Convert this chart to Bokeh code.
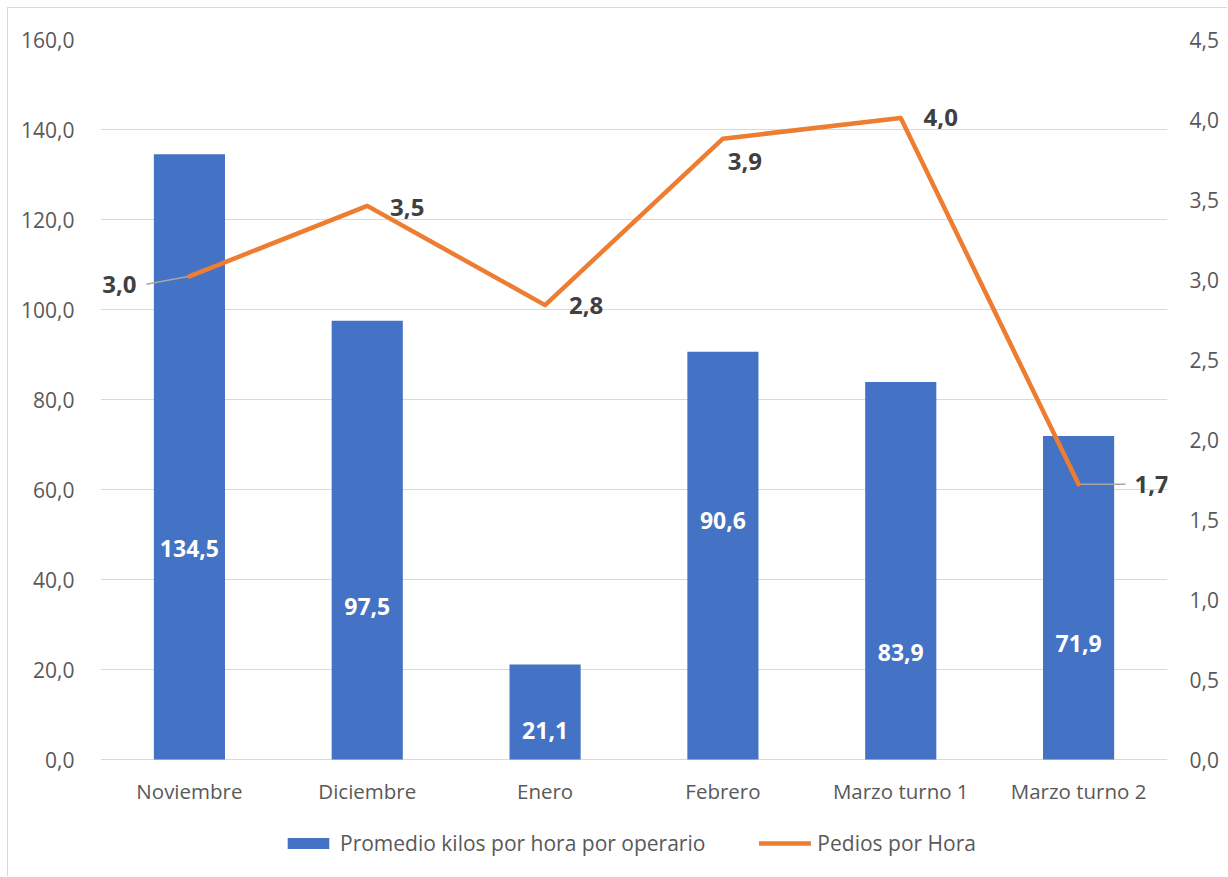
from bokeh.plotting import figure
from bokeh.models import (Range1d, LinearAxis, FixedTicker, Legend, LegendItem,
                          CustomJSTickFormatter, ColumnDataSource)
from bokeh.core.properties import value
from bokeh.embed import file_html
from bokeh.resources import INLINE

# ---- data ----
categories = ["Noviembre", "Diciembre", "Enero", "Febrero", "Marzo turno 1", "Marzo turno 2"]
kilos = [134.5, 97.5, 21.1, 90.6, 83.9, 71.9]
pedidos = [3.02, 3.46, 2.84, 3.88, 4.01, 1.72]
left_ticks = [0, 20, 40, 60, 80, 100, 120, 140, 160]
right_ticks = [0, 0.5, 1.0, 1.5, 2.0, 2.5, 3.0, 3.5, 4.0, 4.5]
LEFT_MAX, RIGHT_MAX = 160, 4.5

# ---- layout / style (not data) ----
bar_label_y = [46.9, 34.0, 6.4, 53.1, 23.8, 25.8]          # where each bar label sits
line_label_dx = [-70, 40, 41, 22, 40, 73]                   # px offsets of line labels
line_label_dy = [8, 2, 0, 23, 0, 0]
FONT = "Open Sans"
BLUE = "#4472C4"
ORANGE = "#ED7D31"
GRID = "#D9D9D9"
TXT = "#595959"
FW = 1067          # plot width in px
VH = 720           # px between value 0 and the top of the axes
BELOW = 111        # px kept under value 0 for category labels and legend

xs = [i + 0.5 for i in range(len(categories))]
l_lo = -BELOW * LEFT_MAX / VH
r_lo = -BELOW * RIGHT_MAX / VH

p = figure(frame_width=FW, frame_height=VH + BELOW,
           x_range=Range1d(0, len(categories)), y_range=Range1d(l_lo, LEFT_MAX),
           output_backend="svg", toolbar_location=None,
           min_border_left=92, min_border_right=60, min_border_top=31, min_border_bottom=6,
           x_axis_location=None, y_axis_location="left")
p.styles = {"border-left": "1px solid #D9D9D9", "border-top": "1px solid #D9D9D9",
            "margin-left": "7px", "margin-top": "7px"}
p.outline_line_color = None
p.extra_y_ranges = {"right": Range1d(r_lo, RIGHT_MAX)}

# axes
fmt = CustomJSTickFormatter(code="return tick.toFixed(1).replace('.', ',');")
ya = p.yaxis[0]
ya.ticker = FixedTicker(ticks=left_ticks)
ya.formatter = fmt
ry = LinearAxis(y_range_name="right", ticker=FixedTicker(ticks=right_ticks), formatter=fmt)
p.add_layout(ry, "right")
for ax in (ya, ry):
    ax.axis_line_color = None
    ax.major_tick_line_color = None
    ax.minor_tick_line_color = None
    ax.major_label_text_font = FONT
    ax.major_label_text_font_size = "21px"
    ax.major_label_text_color = TXT
ya.major_label_standoff = 20
ry.major_label_standoff = 16

p.xgrid.grid_line_color = None
p.ygrid.ticker = FixedTicker(ticks=left_ticks)
p.ygrid.grid_line_color = GRID
p.ygrid.grid_line_width = 1

src = ColumnDataSource(dict(
    x=xs, cat=categories, kilos=kilos, pedidos=pedidos,
    klab=[f"{v:.1f}".replace(".", ",") for v in kilos],
    plab=[f"{v:.1f}".replace(".", ",") for v in pedidos],
    ky=bar_label_y, dx=line_label_dx, dy=line_label_dy,
))

bars = p.vbar(x="x", top="kilos", width=0.4, source=src, fill_color=BLUE, line_color=None)

# category labels under the value axis baseline
p.text(x="x", y=0, text="cat", source=src, y_offset=31, text_font=value(FONT),
       text_font_size="20.5px", text_color=TXT, text_align="center", text_baseline="middle")

# leader lines (Noviembre, Marzo turno 2)
ux = len(categories) / FW
uy = RIGHT_MAX / VH
p.line([xs[0] - 43 * ux, xs[0]], [pedidos[0] - 8 * uy, pedidos[0]], y_range_name="right",
       line_color="#A6A6A6", line_width=1.5)
p.line([xs[5], xs[5] + 47 * ux], [pedidos[5], pedidos[5]], y_range_name="right",
       line_color="#A6A6A6", line_width=1.5)

line = p.line(x="x", y="pedidos", source=src, y_range_name="right",
              line_color=ORANGE, line_width=4.5, line_join="round", line_cap="round")

p.text(x="x", y="ky", text="klab", source=src, text_font=value(FONT),
       text_font_size="23px", text_font_style="bold", text_color="white",
       text_align="center", text_baseline="middle")
p.text(x="x", y="pedidos", text="plab", source=src, y_range_name="right",
       x_offset="dx", y_offset="dy", text_font=value(FONT),
       text_font_size="24px", text_font_style="bold", text_color="#404040",
       text_align="center", text_baseline="middle")

legend = Legend(items=[LegendItem(label="Promedio kilos por hora por operario", renderers=[bars]),
                       LegendItem(label="Pedios por Hora", renderers=[line])],
                orientation="horizontal", location=(182, 13),
                border_line_color=None, background_fill_alpha=0,
                glyph_width=52, glyph_height=14, label_standoff=6, spacing=54,
                label_text_font=FONT, label_text_font_size="21px", label_text_color=TXT,
                padding=0, margin=0)
p.add_layout(legend, "center")

open("out.html", "w").write(file_html(p, INLINE))
